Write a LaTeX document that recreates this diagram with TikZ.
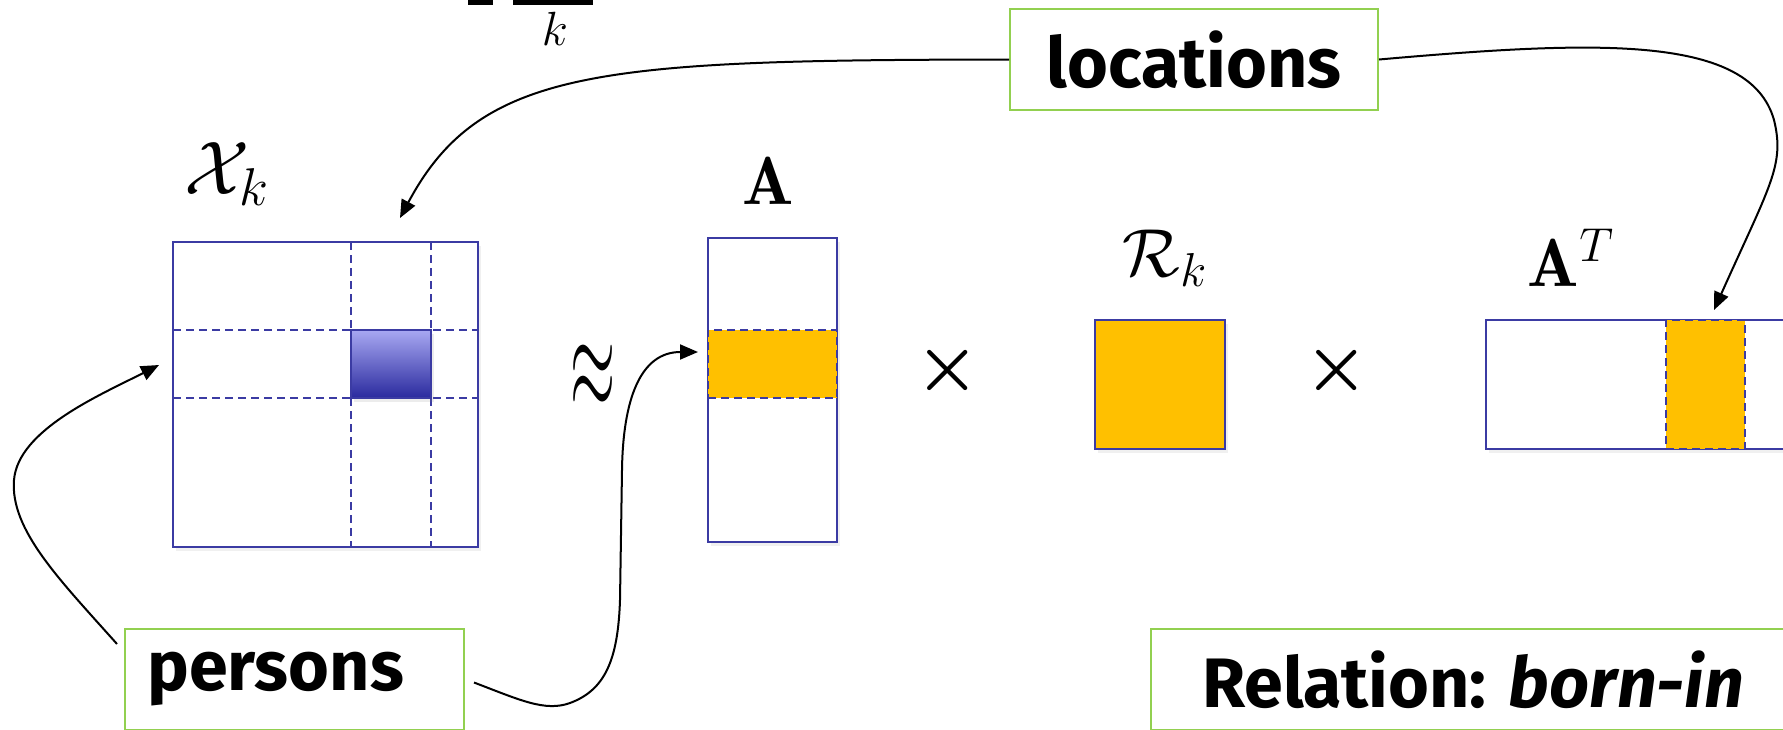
\RequirePackage{fix-cm}
\documentclass[tikz,border=0pt]{standalone}
\usepackage{fontspec}
\setsansfont{Fira Sans}
\usepackage{amsmath,bm,graphicx}
\usetikzlibrary{arrows.meta,shadows,calc}
\definecolor{mblue}{HTML}{3B3BA3}
\definecolor{morange}{HTML}{FFC000}
\definecolor{mgreen}{HTML}{92D050}
\definecolor{gtop}{HTML}{A8A8F2}
\definecolor{gbot}{HTML}{2A2A9E}
\begin{document}
\begin{tikzpicture}[x=0.5pt,y=-0.5pt,
  mat/.style={draw=mblue,line width=1pt,fill=white,inner sep=0pt,
    drop shadow={shadow xshift=1.5pt,shadow yshift=-2pt,opacity=0.12}},
  band/.style={draw=mblue,line width=0.8pt,dash pattern=on 4pt off 2.5pt,fill=morange,inner sep=0pt},
  dline/.style={draw=mblue,line width=0.8pt,dash pattern=on 4pt off 2.5pt},
  lbl/.style={draw=mgreen,line width=1pt,fill=white,inner sep=0pt,
    font=\sffamily\bfseries\fontsize{35}{40}\selectfont},
  conn/.style={line width=1pt,-{Triangle[length=9pt,width=7.5pt]}},
  op/.style={inner sep=0pt,font=\fontsize{36}{36}\selectfont\boldmath},
  mlab/.style={inner sep=0pt,font=\fontsize{34}{40}\selectfont},
]
\useasboundingbox (0,0) rectangle (1783,729);

% cropped formula at the top
\fill (468,-4) rectangle (493,5);
\fill (513,-4) rectangle (593,5);
\node[inner sep=0pt,font=\fontsize{24}{26}\selectfont] (kk) at (555,29) {$k$};

% X_k matrix
\node[mat,minimum width=152.5pt,minimum height=152.5pt] (X) at (325.5,394.5) {};
\draw[dline] (351,242) -- (351,547);
\draw[dline] (431,242) -- (431,547);
\draw[dline] (173,330) -- (478,330);
\draw[dline] (173,398) -- (478,398);
\node[draw=mblue,line width=1pt,top color=gtop,bottom color=gbot,inner sep=0pt,
  minimum width=40pt,minimum height=34pt,
  drop shadow={shadow xshift=1.5pt,shadow yshift=-2pt,opacity=0.15}] (blk) at (391,364) {};
\node[mlab,font=\fontsize{38}{40}\selectfont] (Xl) at (227,174) {$\mathcal{X}_k$};

% approx
\node[inner sep=0pt] (apx) at (593,377) {\scalebox{1}[2.3]{\fontsize{29}{29}\selectfont$\approx$}};

% A
\node[mat,minimum width=64.5pt,minimum height=152pt] (A) at (772.5,390) {};
\node[band,minimum width=64.5pt,minimum height=34pt] (Aband) at (772.5,364) {};
\node[mlab] (Al) at (768,181) {$\mathbf{A}$};

\node[op] (t1) at (948,370) {$\times$};

% R_k
\node[mat,fill=morange,minimum width=65pt,minimum height=64.5pt] (R) at (1160,384.5) {};
\node[mlab] (Rl) at (1165,258) {$\mathcal{R}_k$};

\node[op] (t2) at (1337,370) {$\times$};

% A^T
\node[mat,minimum width=167pt,minimum height=64.5pt] (AT) at (1653,384.5) {};
\node[band,minimum width=39.5pt,minimum height=64.5pt] (ATband) at (1705.5,384.5) {};
\node[mlab] (ATl) at (1571,258) {$\mathbf{A}^T$};

% green labels
\node[lbl,minimum width=184pt,minimum height=50.5pt] (loc) at (1194,59.5) {locations};
\node[lbl,minimum width=169.5pt,minimum height=50.5pt] (per) at (294.5,679.5) {persons\hspace*{19pt}};
\node[lbl,minimum width=322pt,minimum height=50.5pt] (rel) at (1473,679.5) {Relation: \textit{born-in}};

% connectors
\coordinate (tipX) at (400,218);
\coordinate (tipAT) at (1714,310);
\coordinate (tipP) at (159,365);
\coordinate (tipA) at (698,352);

\draw[conn] (loc.west) .. controls (600,60) and (480,68) .. (tipX);
\draw[conn] (loc.east) .. controls (1600,40) and (1750,35) .. (1774,120)
  .. controls (1785,165) and (1770,185) .. (tipAT);
\draw[conn] ([xshift=-3.5pt,yshift=-8pt]per.north west) .. controls (60,580) and (10,530) .. (14,480)
  .. controls (18,430) and (100,395) .. (tipP);
\draw[conn] ([xshift=4.5pt,yshift=-1.5pt]per.east) .. controls (520,700) and (545,712) .. (570,703)
  .. controls (605,690) and (618,660) .. (620,600) -- (622,470)
  .. controls (623,400) and (640,352) .. (tipA);
\end{tikzpicture}
\end{document}
